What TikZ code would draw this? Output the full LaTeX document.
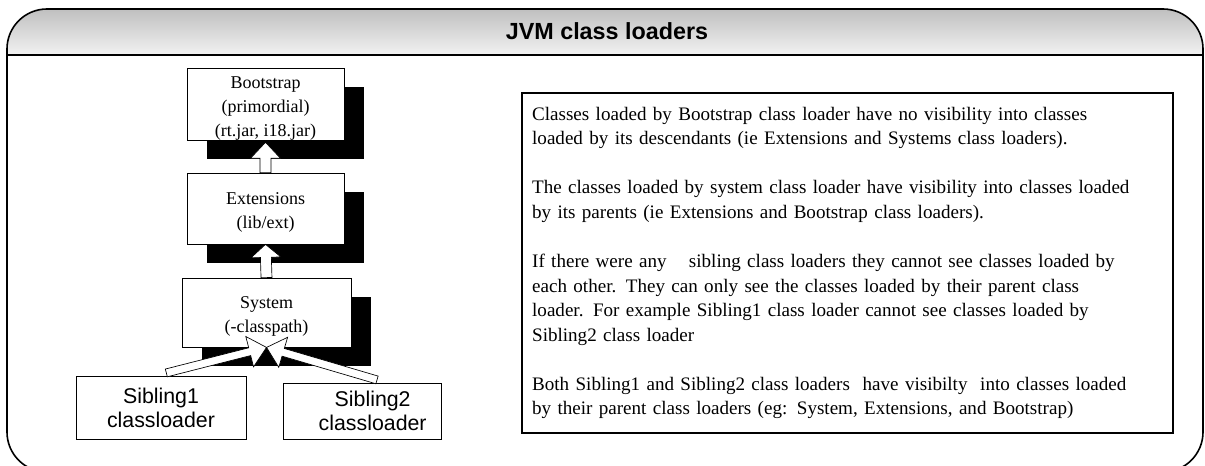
\documentclass[tikz,border=0pt]{standalone}
\usepackage{fontspec}
\setmainfont{Liberation Serif}
\setsansfont{Liberation Sans}
\usepackage{tikz}
\usetikzlibrary{positioning,calc,shadows}

\newcommand{\toppad}{\rule{0pt}{15pt}}

\tikzset{
  loaderbox/.style={draw, line width=0.6pt, fill=white, align=center, inner xsep=1pt, inner ysep=0pt,
    font=\fontsize{13.5}{18}\selectfont,
    drop shadow={shadow xshift=15pt, shadow yshift=-14.5pt, fill=black, opacity=1}},
  siblingbox/.style={draw, line width=0.6pt, fill=white, align=center, inner sep=1pt,
    font=\sffamily\fontsize{16}{18}\selectfont},
  notebox/.style={draw, line width=1.2pt, align=left, inner xsep=7.5pt,
    text width=473pt, minimum height=255pt, font=\fontsize{14.3}{18.4}\selectfont},
  hollowarrow/.style={draw, fill=white, line width=0.5pt},
}

% #1 tail, #2 tip, #3 half shaft, #4 half head, #5 head length (all pt)
\newcommand{\blockarrow}[5]{%
  \path[hollowarrow] let \p1=($(#2)-(#1)$), \n1={atan2(\y1,\x1)}, \n2={veclen(\x1,\y1)} in
    [shift={(#1)}, rotate=\n1]
    (0pt,-#3pt) -- ({(\n2-#5)*1pt},-#3pt) -- ({(\n2-#5)*1pt},-#4pt) -- ({\n2*1pt},0pt)
    -- ({(\n2-#5)*1pt},#4pt) -- ({(\n2-#5)*1pt},#3pt) -- (0pt,#3pt) -- cycle;}

\begin{document}
\begin{tikzpicture}[x=0.75pt, y=0.75pt]

  \useasboundingbox (0,0) rectangle (1205,-466);

  % outer frame with shaded title bar
  \begin{scope}
    \clip[rounded corners=30pt] (7,-9) rectangle (1203,-472);
    \fill[top color=black!25, bottom color=black!5] (7,-9) rectangle (1203,-55);
  \end{scope}
  \draw[line width=1.2pt, rounded corners=30pt] (7,-9) rectangle (1203,-472);
  \draw[line width=1.5pt] (7,-55) -- (1203,-55);
  \node[font=\sffamily\bfseries\fontsize{17.5}{20}\selectfont] (title) at (607,-31) {JVM class loaders};

  % loader hierarchy
  \node[loaderbox, minimum width=117.75pt, minimum height=52.5pt] (boot) at (265.5,-104)
    {\toppad Bootstrap\\(primordial)\\(rt.jar, i18.jar)};
  \node[loaderbox, minimum width=117.75pt, minimum height=53.25pt] (ext) at (265.5,-208.5)
    {\toppad Extensions\\(lib/ext)};
  \node[loaderbox, minimum width=126.75pt, minimum height=51.75pt] (sys) at (266.5,-312.5)
    {\toppad System\\(-classpath)};

  \node[siblingbox, minimum width=127.5pt, minimum height=47.25pt] (sib1) at (161,-407.5)
    {Sibling1\\classloader};
  \node[siblingbox, minimum width=118.5pt, minimum height=42pt] (sib2) at (362,-411)
    {\hspace*{16pt}Sibling2\\\hspace*{16pt}classloader};

  \coordinate (boottip) at ([yshift=-1.5pt]boot.south);
  \coordinate (sib1tail) at ([xshift=4pt, yshift=2pt]sib1.north);
  \coordinate (sib2tail) at ([xshift=11.25pt, yshift=2pt]sib2.north);

  \blockarrow{ext.north}{boottip}{4.1}{11.25}{12}
  \blockarrow{sys.north}{ext.south}{4.1}{11.25}{9.75}
  \blockarrow{sib1tail}{sys.south}{3}{11.75}{13}
  \blockarrow{sib2tail}{sys.south}{3}{11.75}{13}

  % notes
  \node[notebox] (notes) at (847.5,-263) {%
    Classes loaded by Bootstrap class loader have no visibility into classes\\
    loaded by its descendants (ie Extensions and Systems class loaders).\\[18.4pt]
    The classes loaded by system class loader have visibility into classes loaded\\
    by its parents (ie Extensions and Bootstrap class loaders).\\[18.4pt]
    If there were any\hspace{12pt} sibling class loaders they cannot see classes loaded by\\
    each other. They can only see the classes loaded by their parent class\\
    loader. For example Sibling1 class loader cannot see classes loaded by\\
    Sibling2 class loader\\[18.4pt]
    Both Sibling1 and Sibling2 class loaders\ \ have visibilty\ \ into classes loaded\\
    by their parent class loaders (eg: System, Extensions, and Bootstrap)};

\end{tikzpicture}
\end{document}
